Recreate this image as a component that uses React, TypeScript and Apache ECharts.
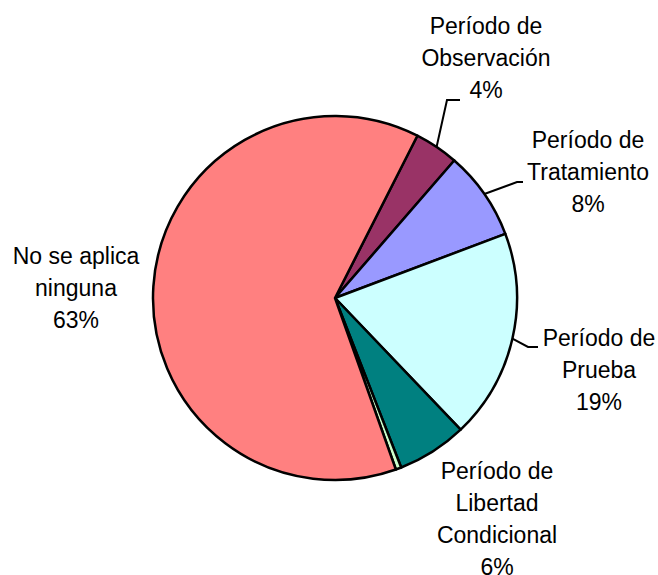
import React, { useEffect, useRef } from "react";
import * as echarts from "echarts";

const categories = [
  "Período de\nObservación",
  "Período de\nTratamiento",
  "Período de\nPrueba",
  "Período de\nLibertad\nCondicional",
  "Otro",
  "No se aplica\nninguna",
];
const values = [3.9, 7.9, 18.6, 6.2, 0.5, 62.9];
const colors = ["#993366", "#9999FF", "#CCFFFF", "#008080", "#CCFFCC", "#FF8080"];
const showLabel = [true, true, true, true, false, true];
const showLine = [true, true, true, false, false, false];
const labelPos: [number, number][] = [
  [486, 58],
  [588, 172],
  [599, 370],
  [497, 519],
  [0, 0],
  [76, 288],
];
// elbow and end points of the leader lines (layout only)
const linePts: ([number, number][] | null)[] = [
  [[447, 100], [460, 100]],
  [[517, 182], [523, 182]],
  [[528, 347], [538, 347]],
  null,
  null,
  null,
];

export default function App() {
  const ref = useRef<HTMLDivElement>(null);
  useEffect(() => {
    if (!ref.current) return;
    const chart = echarts.init(ref.current, undefined, { renderer: "svg" });
    chart.setOption({
      animation: false,
      backgroundColor: "#ffffff",
      series: [
        {
          type: "pie",
          center: [335, 298],
          radius: 182,
          startAngle: 63.1,
          clockwise: true,
          avoidLabelOverlap: false,
          itemStyle: { borderColor: "#000", borderWidth: 2.5 },
          label: {
            show: true,
            color: "#000",
            fontFamily: "'Liberation Sans', Arial, sans-serif",
            fontSize: 23,
            lineHeight: 32,
            align: "center",
            formatter: (p: any) => `${p.name}\n${Math.round(p.percent)}%`,
          },
          labelLine: { show: true, lineStyle: { color: "#000", width: 2 }, length: 15, length2: 12 },
          labelLayout: (params: any) => {
            const i = params.dataIndex;
            const out: any = {
              x: labelPos[i][0],
              y: labelPos[i][1],
              align: "center",
              verticalAlign: "middle",
            };
            const lp = linePts[i];
            if (lp && params.labelLinePoints && params.labelLinePoints[0]) {
              out.labelLinePoints = [params.labelLinePoints[0], lp[0], lp[1]];
            }
            return out;
          },
          data: categories.map((c, i) => ({
            name: c,
            value: values[i],
            itemStyle: { color: colors[i] },
            label: { show: showLabel[i] },
            labelLine: { show: showLine[i] },
          })),
        },
      ],
    });
    return () => chart.dispose();
  }, []);
  return (
    <div
      ref={ref}
      style={{ position: "fixed", left: 0, top: 0, width: 658, height: 575 }}
    />
  );
}
